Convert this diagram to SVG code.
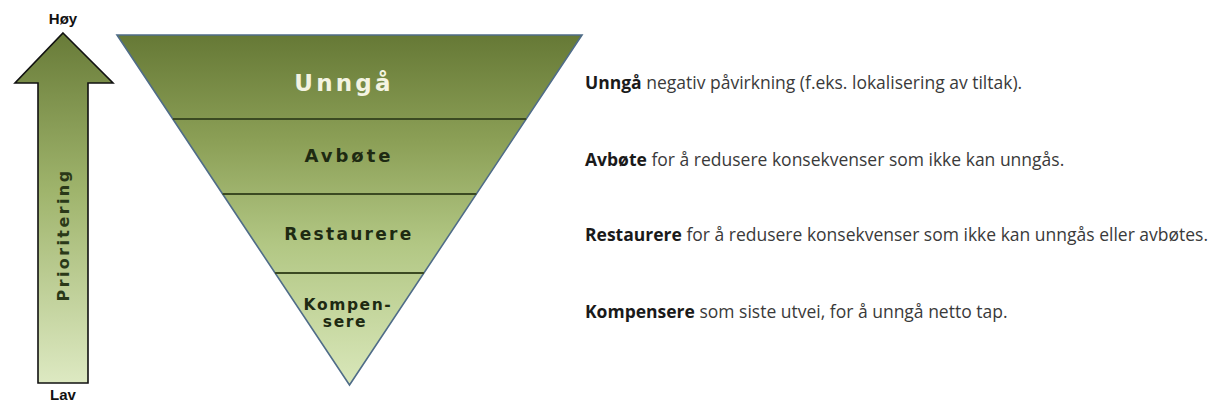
<svg xmlns="http://www.w3.org/2000/svg" width="1224" height="408" viewBox="0 0 1224 408">
<style>
.lbl{font-family:"DejaVu Sans",Verdana,sans-serif;font-weight:bold;text-anchor:middle}
.dark{fill:#1e2a12}
.side{font-family:"Liberation Sans",Arial,sans-serif;font-weight:bold;font-size:15px;fill:#111;text-anchor:middle}
.desc{font-family:"Open Sans","Liberation Sans",sans-serif;font-size:17.5px;fill:#3a3a3a}
.desc tspan.b{font-weight:bold;fill:#1a1a1a}
.band{fill:url(#tg)}
.div{stroke:#3b4a22;stroke-width:2;fill:none}
</style>
<defs>
<linearGradient id="tg" gradientUnits="userSpaceOnUse" x1="0" y1="35" x2="0" y2="385">
<stop offset="0" stop-color="#667936"/>
<stop offset="0.3" stop-color="#8b9f56"/>
<stop offset="0.6" stop-color="#b2c784"/>
<stop offset="1" stop-color="#d9e7ba"/>
</linearGradient>
<linearGradient id="ag" gradientUnits="userSpaceOnUse" x1="0" y1="33" x2="0" y2="383">
<stop offset="0" stop-color="#687b38"/>
<stop offset="0.45" stop-color="#9fb46c"/>
<stop offset="1" stop-color="#dde9c2"/>
</linearGradient>
</defs>
<rect width="1224" height="408" fill="#ffffff"/>

<g id="priority-arrow">
<polygon points="63,33 113,83 88,83 88,383 38,383 38,83 15,83" fill="url(#ag)" stroke="#111" stroke-width="1.6" stroke-linejoin="miter"/>
<text class="lbl" transform="translate(69,235) rotate(-90)" font-size="16" letter-spacing="2.4" fill="#2a3818">Prioritering</text>
</g>
<g id="label-hoy"><text class="side" x="63" y="24">Høy</text></g>
<g id="label-lav"><text class="side" x="63" y="400">Lav</text></g>

<g id="layer-unnga">
<polygon class="band" points="117,35 582,35 526.2,119 172.8,119"/>
<text class="lbl" x="344" y="91" font-size="23" letter-spacing="3.2" fill="#f3f3e2">Unngå</text>
</g>
<g id="layer-avbote">
<polygon class="band" points="172.8,119 526.2,119 476.4,194 222.6,194"/>
<text class="lbl dark" x="349" y="162" font-size="18" letter-spacing="3">Avbøte</text>
</g>
<g id="layer-restaurere">
<polygon class="band" points="222.6,194 476.4,194 423.9,273 275.1,273"/>
<text class="lbl dark" x="349" y="240" font-size="17" letter-spacing="2.3">Restaurere</text>
</g>
<g id="layer-kompensere">
<polygon class="band" points="275.1,273 423.9,273 349.5,385"/>
<text class="lbl dark" x="348" y="310" font-size="15.5" letter-spacing="1.6">Kompen-</text>
<text class="lbl dark" x="345" y="327" font-size="15.5" letter-spacing="1.6">sere</text>
</g>
<g id="connectors">
<polygon points="117,35 582,35 349.5,385" fill="none" stroke="#4f6c88" stroke-width="1.6" stroke-linejoin="miter"/>
<line class="div" x1="172.8" y1="119" x2="526.2" y2="119"/>
<line class="div" x1="222.6" y1="194" x2="476.4" y2="194"/>
<line class="div" x1="275.1" y1="273" x2="423.9" y2="273"/>
</g>

<g id="desc-unnga"><text class="desc" x="585" y="89"><tspan class="b">Unngå</tspan> negativ påvirkning (f.eks. lokalisering av tiltak).</text></g>
<g id="desc-avbote"><text class="desc" x="585" y="166"><tspan class="b">Avbøte</tspan> for å redusere konsekvenser som ikke kan unngås.</text></g>
<g id="desc-restaurere"><text class="desc" x="585" y="241"><tspan class="b">Restaurere</tspan> for å redusere konsekvenser som ikke kan unngås eller avbøtes.</text></g>
<g id="desc-kompensere"><text class="desc" x="585" y="318"><tspan class="b">Kompensere</tspan> som siste utvei, for å unngå netto tap.</text></g>
</svg>
